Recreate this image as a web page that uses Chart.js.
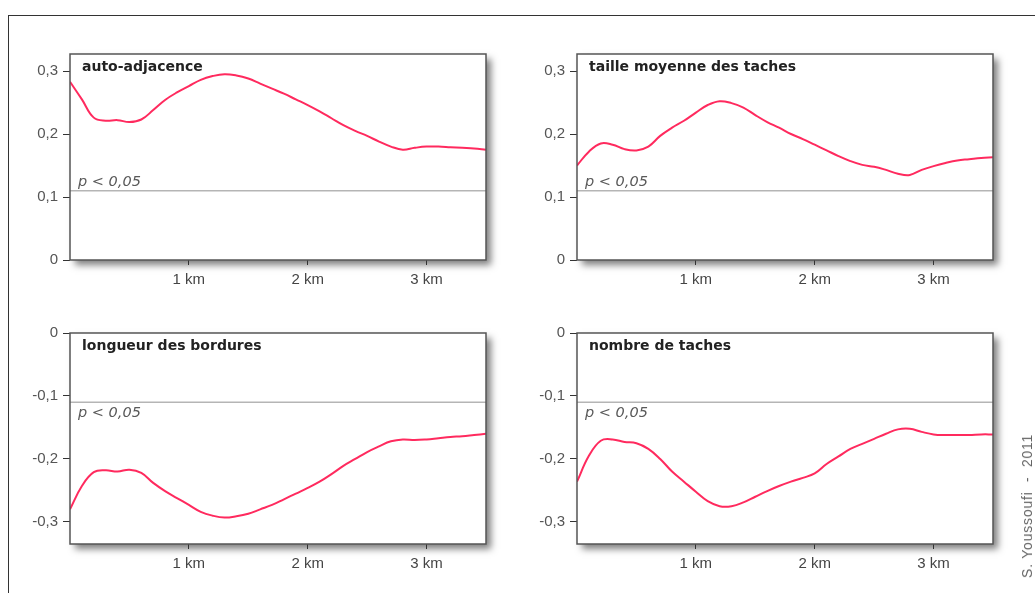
<!DOCTYPE html>
<html>
<head>
<meta charset="utf-8">
<script src="https://cdn.jsdelivr.net/npm/chart.js@4"></script>
<style>
  body { margin: 0; background: #fff; width: 1035px; height: 593px; overflow: hidden; position: relative; font-family: "Liberation Sans", Arial, sans-serif; }
  #frame { position: absolute; left: 8px; top: 15px; width: 1040px; height: 600px; border-top: 1px solid #333; border-left: 1px solid #333; }
  canvas { position: absolute; }
  #credit { position: absolute; left: 1027px; top: 506px; transform: translate(-50%, -50%) rotate(-90deg); white-space: nowrap; font-size: 14px; letter-spacing: 0.8px; font-weight: normal; color: #666; }
</style>
</head>
<body>
<div id="frame"></div>
<canvas id="c1" width="500" height="260" style="left:20px;top:40px"></canvas>
<canvas id="c2" width="500" height="260" style="left:527px;top:40px"></canvas>
<canvas id="c3" width="500" height="265" style="left:20px;top:319px"></canvas>
<canvas id="c4" width="500" height="265" style="left:527px;top:319px"></canvas>
<div id="credit">S. Youssoufi &nbsp;-&nbsp; 2011</div>
<script>
// distance in km, one value every 100 m
const distances = [0, 0.1, 0.2, 0.3, 0.4, 0.5, 0.6, 0.7, 0.8, 0.9, 1.0, 1.1, 1.2, 1.3, 1.4, 1.5, 1.6, 1.7,
  1.8, 1.9, 2.0, 2.1, 2.2, 2.3, 2.4, 2.5, 2.6, 2.7, 2.8, 2.9, 3.0, 3.1, 3.2, 3.3, 3.4, 3.5];

const autoAdjacence = [0.283, 0.255, 0.226, 0.221, 0.222, 0.219, 0.223, 0.238, 0.254, 0.266, 0.276, 0.286,
  0.292, 0.295, 0.293, 0.288, 0.280, 0.272, 0.264, 0.255, 0.246, 0.236, 0.225, 0.214, 0.205, 0.197,
  0.188, 0.180, 0.175, 0.178, 0.180, 0.180, 0.179, 0.178, 0.177, 0.175];

const tailleMoyenne = [0.150, 0.172, 0.185, 0.183, 0.176, 0.174, 0.180, 0.197, 0.210, 0.221, 0.234, 0.246,
  0.252, 0.249, 0.242, 0.230, 0.219, 0.210, 0.200, 0.192, 0.183, 0.174, 0.165, 0.157, 0.151, 0.148,
  0.143, 0.137, 0.135, 0.143, 0.149, 0.154, 0.158, 0.160, 0.162, 0.163];

const longueurBordures = [-0.280, -0.243, -0.221, -0.218, -0.220, -0.217, -0.222, -0.238, -0.251, -0.262,
  -0.273, -0.284, -0.290, -0.293, -0.291, -0.287, -0.280, -0.273, -0.264, -0.255, -0.246, -0.236, -0.224,
  -0.211, -0.200, -0.189, -0.180, -0.172, -0.169, -0.170, -0.169, -0.167, -0.165, -0.164, -0.162, -0.160];

const nombreTaches = [-0.236, -0.195, -0.171, -0.169, -0.173, -0.175, -0.184, -0.200, -0.220, -0.236,
  -0.252, -0.267, -0.275, -0.275, -0.269, -0.260, -0.251, -0.243, -0.236, -0.230, -0.223, -0.208, -0.196,
  -0.184, -0.176, -0.168, -0.160, -0.153, -0.152, -0.157, -0.161, -0.162, -0.162, -0.162, -0.161, -0.161];

const xTicks = [1, 2, 3];
const yTicksPos = [0, 0.1, 0.2, 0.3];
const yTicksNeg = [0, -0.1, -0.2, -0.3];
const threshold = 0.11; // p < 0,05

const lineColor = '#ff2a5e';

const panelPlugin = {
  id: 'panel',
  beforeDraw(chart) {
    const a = chart.chartArea, ctx = chart.ctx;
    ctx.save();
    ctx.shadowColor = 'rgba(0,0,0,0.5)';
    ctx.shadowBlur = 7;
    ctx.shadowOffsetX = 5;
    ctx.shadowOffsetY = 5;
    ctx.fillStyle = '#fff';
    ctx.fillRect(a.left, a.top, a.right - a.left, a.bottom - a.top);
    ctx.restore();
  },
  beforeDatasetsDraw(chart, args, opts) {
    const a = chart.chartArea, ctx = chart.ctx;
    const y = chart.scales.y.getPixelForValue(opts.sign * threshold);
    ctx.save();
    ctx.strokeStyle = '#b5b5b5';
    ctx.lineWidth = 1.5;
    ctx.beginPath();
    ctx.moveTo(a.left, y);
    ctx.lineTo(a.right, y);
    ctx.stroke();
    ctx.fillStyle = '#5a5a5a';
    ctx.font = 'oblique 14.5px "DejaVu Sans", sans-serif';
    ctx.textBaseline = 'alphabetic';
    ctx.fillText('p < 0,05', a.left + 8, opts.sign > 0 ? y - 5 : y + 15);
    ctx.restore();
  },
  afterDatasetsDraw(chart, args, opts) {
    const a = chart.chartArea, ctx = chart.ctx;
    ctx.save();
    ctx.strokeStyle = '#555';
    ctx.lineWidth = 1.5;
    ctx.strokeRect(a.left, a.top, a.right - a.left, a.bottom - a.top);
    ctx.fillStyle = '#222';
    ctx.font = 'bold 14px "DejaVu Sans", sans-serif';
    ctx.textBaseline = 'middle';
    ctx.fillText(opts.title, a.left + 12, a.top + 13);
    ctx.restore();
  }
};

function makePanel(id, title, values, yMin, yMax, yTicks, sign) {
  new Chart(document.getElementById(id), {
    type: 'line',
    data: {
      labels: distances,
      datasets: [{
        data: distances.map((d, i) => ({ x: d, y: values[i] })),
        borderColor: lineColor,
        borderWidth: 2,
        pointRadius: 0,
        tension: 0.4,
        fill: false
      }]
    },
    options: {
      responsive: false,
      animation: false,
      layout: { padding: { top: 13, right: 34, left: 0, bottom: 0 } },
      plugins: {
        legend: { display: false },
        tooltip: { enabled: false },
        panel: { title: title, sign: sign }
      },
      scales: {
        x: {
          type: 'linear',
          min: 0,
          max: 3.5,
          afterBuildTicks: s => { s.ticks = xTicks.map(v => ({ value: v })); },
          afterFit: s => { s.height = 40; },
          grid: { drawOnChartArea: false, tickLength: 5, color: '#333', lineWidth: 1 },
          border: { display: false },
          ticks: {
            color: '#444',
            font: { size: 15, family: '"Liberation Sans", Arial, sans-serif' },
            padding: 6,
            maxRotation: 0,
            callback: v => v + ' km'
          }
        },
        y: {
          min: yMin,
          max: yMax,
          afterBuildTicks: s => { s.ticks = yTicks.map(v => ({ value: v })); },
          afterFit: s => { s.width = 50; },
          grid: { drawOnChartArea: false, tickLength: 7, color: '#333', lineWidth: 1 },
          border: { display: false },
          ticks: {
            color: '#555',
            font: { size: 15, family: '"Liberation Sans", Arial, sans-serif' },
            padding: 5,
            callback: v => v === 0 ? '0' : v.toFixed(1).replace('.', ',')
          }
        }
      }
    },
    plugins: [panelPlugin]
  });
}

makePanel('c1', 'auto-adjacence', autoAdjacence, 0, 0.327, yTicksPos, 1);
makePanel('c2', 'taille moyenne des taches', tailleMoyenne, 0, 0.327, yTicksPos, 1);
makePanel('c3', 'longueur des bordures', longueurBordures, -0.335, 0, yTicksNeg, -1);
makePanel('c4', 'nombre de taches', nombreTaches, -0.335, 0, yTicksNeg, -1);
</script>
</body>
</html>
